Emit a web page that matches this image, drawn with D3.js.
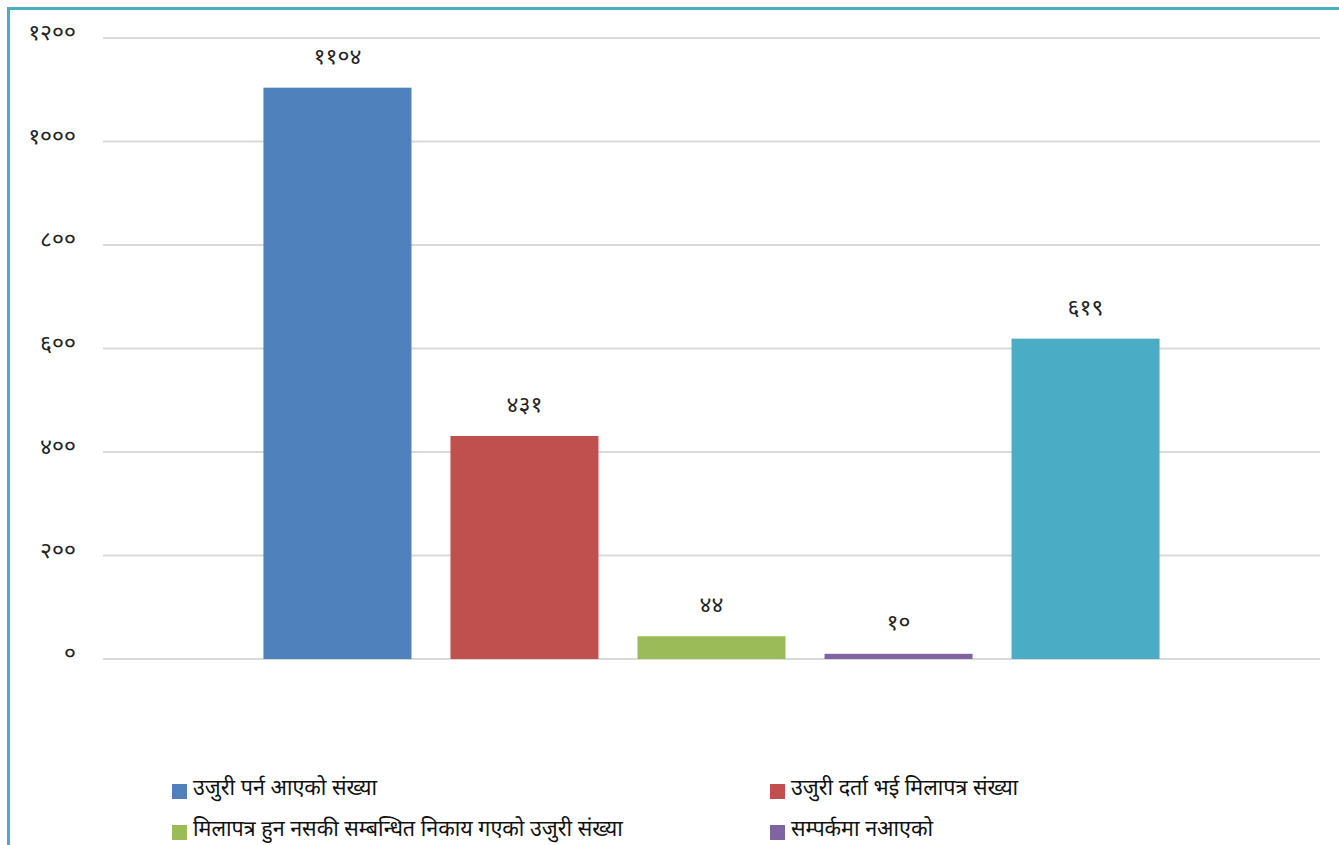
<!DOCTYPE html>
<html><head><meta charset="utf-8">
<script src="https://cdn.jsdelivr.net/npm/d3@7"></script>
<style>
html,body{margin:0;padding:0;background:#fff;}
svg{display:block;}
text{font-family:"Noto Sans","DejaVu Sans",sans-serif;}
</style></head>
<body>
<script>
const series = ["उजुरी पर्न आएको संख्या","उजुरी दर्ता भई मिलापत्र संख्या","मिलापत्र हुन नसकी सम्बन्धित निकाय गएको उजुरी संख्या","सम्पर्कमा नआएको","अन्य"];
const values = [1104, 431, 44, 10, 619];
const colors = ["#4F81BD","#C0504D","#9BBB59","#8064A2","#4BACC6"];
const yTicks = [0,200,400,600,800,1000,1200];
const legendItems = [0,1,2,3];

const W=1339,H=845;
const toDev = n => String(n).replace(/[0-9]/g, d => "०१२३४५६७८९"[+d]);

const svg=d3.select("body").append("svg").attr("width",W).attr("height",H);
svg.append("rect").attr("x",8.5).attr("y",8.5).attr("width",W+20).attr("height",H+20)
  .attr("fill","none").attr("stroke","#4BACC6").attr("stroke-width",3);

const y=d3.scaleLinear().domain([0,1200]).range([659,38]);
const x=d3.scaleBand().domain(d3.range(values.length)).range([103,1320]).paddingInner(0.2086).paddingOuter(0.858);

const g=svg.append("g");
g.selectAll("line.grid").data(yTicks).join("line").attr("class","grid")
  .attr("x1",103).attr("x2",1320).attr("y1",d=>y(d)).attr("y2",d=>y(d))
  .attr("stroke","#D9D9D9").attr("stroke-width",2);
g.selectAll("text.tick").data(yTicks).join("text").attr("class","tick")
  .attr("x",76).attr("y",d=>y(d)+2).attr("text-anchor","end")
  .attr("font-size",23).attr("fill","#222").text(d=>toDev(d));

g.selectAll("rect.bar").data(values).join("rect").attr("class","bar")
  .attr("x",(d,i)=>x(i)).attr("width",x.bandwidth())
  .attr("y",d=>y(d)).attr("height",d=>y(0)-y(d)).attr("fill",(d,i)=>colors[i]);
g.selectAll("text.val").data(values).join("text").attr("class","val")
  .attr("x",(d,i)=>x(i)+x.bandwidth()/2).attr("y",d=>y(d)-24)
  .attr("text-anchor","middle").attr("font-size",23).attr("fill","#222").text(d=>toDev(d));

const lg=svg.append("g");
const lx=[172,770], ly=[784,825];
legendItems.forEach((s,k)=>{
  const cx=lx[k%2], cy=ly[Math.floor(k/2)];
  lg.append("rect").attr("x",cx).attr("y",cy).attr("width",15).attr("height",15).attr("fill",colors[s]);
  lg.append("text").attr("x",cx+21).attr("y",cy+11).attr("font-size",21.5).attr("fill","#111").text(series[s]);
});
</script>
</body></html>
